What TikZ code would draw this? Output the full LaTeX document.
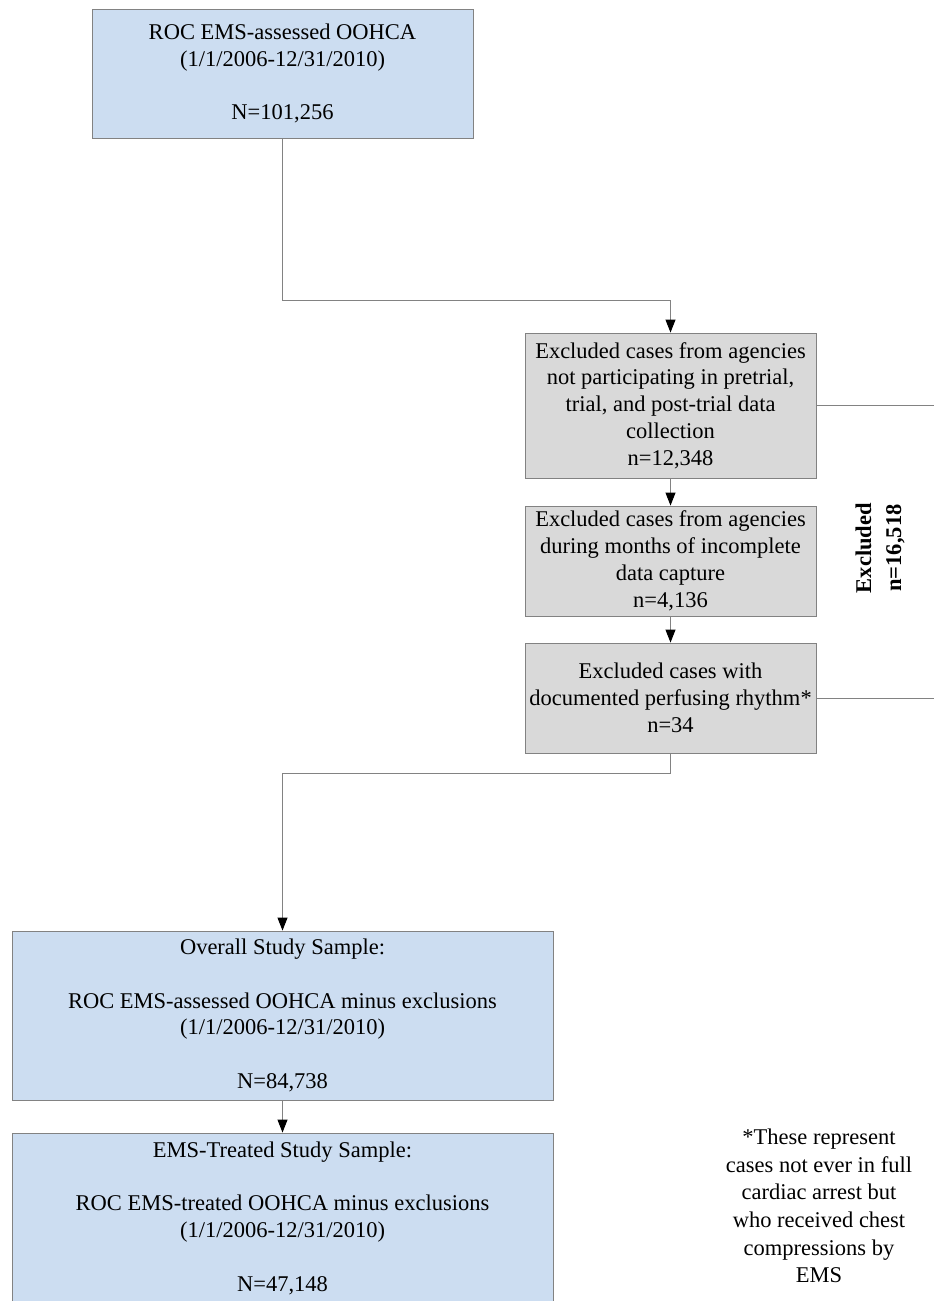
\documentclass[tikz,border=0pt]{standalone}
\usepackage{fontspec}
\setmainfont{Liberation Serif}
\usetikzlibrary{arrows.meta}
\definecolor{boxblue}{RGB}{204,221,241}
\definecolor{boxgray}{RGB}{217,217,217}
\definecolor{edgegray}{RGB}{130,130,130}
\tikzset{
  flowbox/.style={draw=edgegray, line width=0.9pt, inner sep=0pt, align=center,
    font=\fontsize{22.5}{26.8}\selectfont},
  bluebox/.style={flowbox, fill=boxblue},
  graybox/.style={flowbox, fill=boxgray},
  conn/.style={draw=edgegray, line width=0.9pt},
  arr/.style={conn, -{Triangle[length=13pt,width=10pt,color=black,fill=black]}},
  plaintext/.style={inner sep=0pt, align=center, font=\fontsize{22.5}{27.6}\selectfont},
}
\begin{document}
\begin{tikzpicture}[x=1pt,y=-1pt]
\path[use as bounding box, fill=white] (0,0) rectangle (934,1301);
\begin{scope}
\clip (0,0) rectangle (934,1301);
\node[bluebox, minimum width=381pt, minimum height=129pt] (b1) at (282.5,73.5)
  {ROC EMS-assessed OOHCA\\(1/1/2006-12/31/2010)\\[26.8pt]N=101,256};
\node[graybox, minimum width=291pt, minimum height=145pt] (b2) at (670.5,405.5)
  {Excluded cases from agencies\\not participating in pretrial,\\trial, and post-trial data\\collection\\n=12,348};
\node[graybox, minimum width=291pt, minimum height=110pt] (b3) at (670.5,561)
  {Excluded cases from agencies\\during months of incomplete\\data capture\\n=4,136};
\node[graybox, minimum width=291pt, minimum height=110pt] (b4) at (670.5,698)
  {Excluded cases with\\documented perfusing rhythm*\\n=34};
\node[bluebox, minimum width=541pt, minimum height=169pt] (b5) at (282.5,1015.5)
  {Overall Study Sample:\\[26.8pt]ROC EMS-assessed OOHCA minus exclusions\\(1/1/2006-12/31/2010)\\[26.8pt]N=84,738};
\node[bluebox, minimum width=541pt, minimum height=170pt] (b6) at (282.5,1218)
  {EMS-Treated Study Sample:\\[26.8pt]ROC EMS-treated OOHCA minus exclusions\\(1/1/2006-12/31/2010)\\[26.8pt]N=47,148};
\node[plaintext, rotate=90, font=\fontsize{22.5}{30}\selectfont\bfseries] (ex) at (880,548)
  {Excluded\\n=16,518};
\node[plaintext] (fn) at (819,1206)
  {*These represent\\cases not ever in full\\cardiac arrest but\\who received chest\\compressions by\\EMS};
\coordinate (k1) at (670.5,300);
\coordinate (k2) at (282.5,773);
\coordinate (e1) at (934,405.5);
\coordinate (e2) at (934,698);
\draw[arr] (b1.south) |- (k1) -- (b2.north);
\draw[arr] (b2.south) -- (b3.north);
\draw[arr] (b3.south) -- (b4.north);
\draw[arr] (b4.south) |- (k2) -- (b5.north);
\draw[arr] (b5.south) -- (b6.north);
\draw[conn] (b2.east) -- (e1);
\draw[conn] (b4.east) -- (e2);
\end{scope}
\end{tikzpicture}
\end{document}
